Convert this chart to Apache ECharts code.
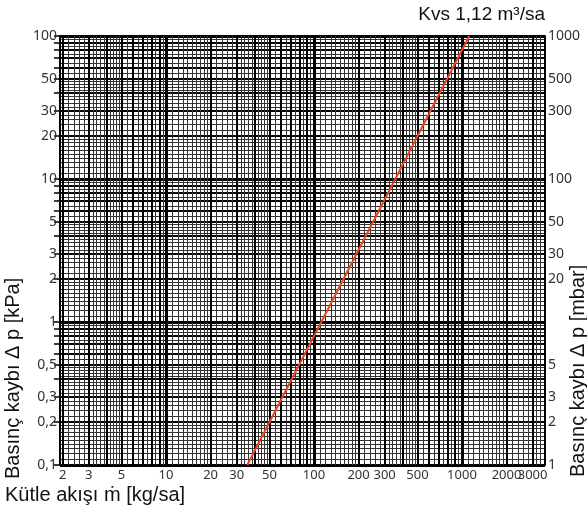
<!DOCTYPE html>
<html><head><meta charset="utf-8">
<script src="https://cdn.jsdelivr.net/npm/echarts@6/dist/echarts.min.js"></script>
<style>html,body{margin:0;padding:0;background:#fff}#c{width:587px;height:511px}</style>
</head><body><div id="c"></div>
<script>
// ---- data ----
const xTickLabels = [2, 3, 5, 10, 20, 30, 50, 100, 200, 300, 500, 1000, 2000];
const xTickLabelsLast = [3000];
const yLeftTickLabels = [0.1, 0.2, 0.3, 0.5, 1, 2, 3, 5, 10, 20, 30, 50, 100];
const yRightTickLabels = [1, 2, 3, 5, 20, 30, 50, 100, 300, 500, 1000];
const massFlow = [35.4, 1120];      // kg/sa
const pressureDrop = [0.1, 100];    // kPa
const xRange = [1.92, 3640];
const yRange = [0.1, 100];

const L = Math.log10;
const xMin = L(xRange[0]), xMax = L(xRange[1]);
const yMin = L(yRange[0]), yMax = L(yRange[1]);

function gridVals(lo, hi, kind) {
  const out = [];
  for (let e = Math.floor(lo) - 1; e <= Math.ceil(hi); e++) {
    const p = Math.pow(10, e);
    let ms = [];
    if (kind === 'decade') ms = [1];
    else if (kind === 'int') ms = [1,2,3,4,5,6,7,8,9];
    else {
      for (let m = 1.1; m < 2; m += 0.1) ms.push(+m.toFixed(2));
      for (let m = 2.2; m < 5; m += 0.2) ms.push(+m.toFixed(2));
      for (let m = 5.5; m < 10; m += 0.5) ms.push(+m.toFixed(2));
    }
    ms.forEach(m => { const v = L(m * p); if (v >= lo - 1e-9 && v <= hi + 1e-9) out.push(v); });
  }
  return out;
}
function fmt(v) {
  const n = Number(Math.pow(10, v).toPrecision(2));
  return String(n).replace('.', ',');
}
const labelFont = { fontFamily: 'Noto Sans', fontSize: 14, color: '#333', hideOverlap: false };
const xLabelFont = { fontFamily: 'Noto Sans', fontSize: 13, color: '#333', hideOverlap: false };
const hidden = { axisLine: { show: false }, axisTick: { show: false }, axisLabel: { show: false } };

function xAx(kind, style, main, labels) {
  const a = { type: 'value', min: xMin, max: xMax, position: 'bottom', ...hidden,
    splitLine: { show: true, lineStyle: style } };
  a.axisTick = { show: !!main, customValues: gridVals(xMin, xMax, kind), length: 5, inside: false,
    lineStyle: { color: '#000', width: 1.5 } };
  if (main) a.axisLine = { show: true, lineStyle: { color: '#000', width: 2 } };
  if (labels) a.axisLabel = { show: true, customValues: labels.map(L), formatter: fmt, margin: 4, ...xLabelFont };
  return a;
}
function yAx(kind, style, main) {
  const a = { type: 'value', min: yMin, max: yMax, position: 'left', ...hidden,
    splitLine: { show: true, lineStyle: style } };
  a.axisTick = { show: !!main, customValues: gridVals(yMin, yMax, kind), length: 6, inside: false,
    lineStyle: { color: '#000', width: 1.5 } };
  if (main) {
    a.axisLine = { show: true, lineStyle: { color: '#000', width: 2 } };
    a.axisLabel = { show: true, customValues: yLeftTickLabels.map(L), formatter: fmt, margin: 3, ...labelFont };
  }
  return a;
}

const option = {
  backgroundColor: '#fff',
  animation: false,
  grid: { left: 60, right: 42, top: 36, bottom: 46, containLabel: false },
  xAxis: [
    xAx('minor', { color: '#333', width: 1 }, false, xTickLabelsLast),
    xAx('int', { color: '#000', width: 2 }, true, xTickLabels),
    xAx('decade', { color: '#000', width: 3 }, false, null)
  ],
  yAxis: [
    yAx('minor', { color: '#333', width: 1 }, false),
    yAx('int', { color: '#000', width: 2 }, true),
    yAx('decade', { color: '#000', width: 3 }, false),
    { type: 'value', min: yMin + 1, max: yMax + 1, position: 'right',
      axisLine: { show: true, lineStyle: { color: '#000', width: 2 } },
      axisTick: { show: false },
      splitLine: { show: false },
      axisLabel: { show: true, customValues: yRightTickLabels.map(L), formatter: fmt, margin: 3, ...labelFont } }
  ],
  graphic: [
    { type: 'text', right: 42, top: 5, style: { text: 'Kvs 1,12 m³/sa', font: '19px "Liberation Sans"', fill: '#111' } },
    { type: 'text', left: 5, top: 485, style: { text: 'Kütle akışı ṁ [kg/sa]', font: '20px "Liberation Sans"', fill: '#111' } },
    { type: 'text', x: 3, y: 479, rotation: Math.PI / 2, style: { text: 'Basınç kaybı Δ p [kPa]', font: '20px "Liberation Sans"', fill: '#111', align: 'left', verticalAlign: 'top' } },
    { type: 'text', x: 568, y: 477, rotation: Math.PI / 2, style: { text: 'Basınç kaybı Δ p [mbar]', font: '20px "Liberation Sans"', fill: '#111', align: 'left', verticalAlign: 'top' } }
  ],
  series: [{
    type: 'line', xAxisIndex: 1, yAxisIndex: 1, symbol: 'none', z: 10,
    lineStyle: { color: '#e8451e', width: 2 },
    data: massFlow.map((m, i) => [L(m), L(pressureDrop[i])])
  }]
};
const chart = echarts.init(document.getElementById('c'), null, { renderer: 'canvas' });
chart.setOption(option);
</script></body></html>
